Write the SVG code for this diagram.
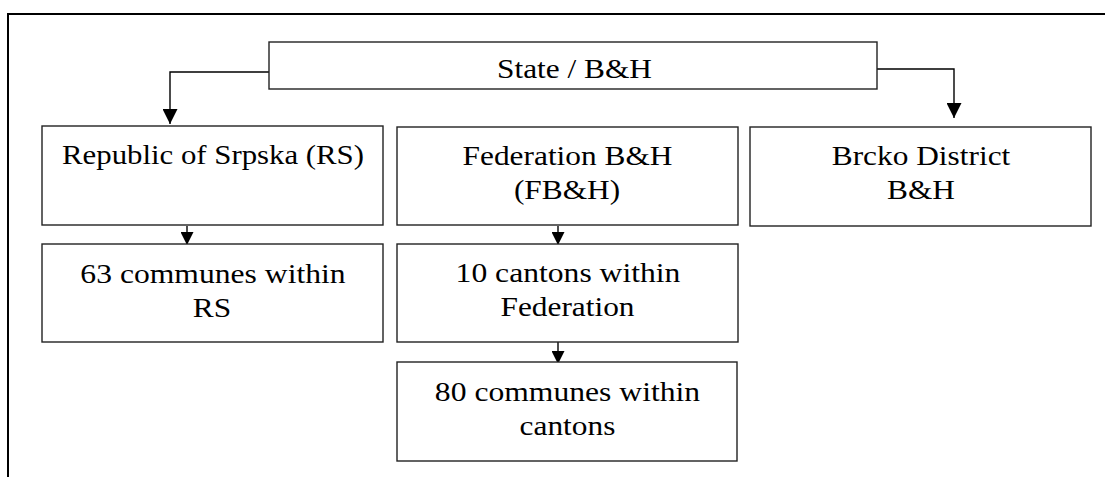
<svg xmlns="http://www.w3.org/2000/svg" width="1105" height="477" viewBox="0 0 1105 477">
<defs>
<style>
.box{fill:#fff;stroke:#222;stroke-width:1.4}
.lbl{font-family:"Liberation Serif","Times New Roman",serif;font-size:28px;fill:#000;text-anchor:middle}
.con{fill:none;stroke:#000;stroke-width:1.4}
.frame{fill:none;stroke:#000;stroke-width:2}
</style>
<marker id="ah" viewBox="0 0 15 15" markerWidth="15" markerHeight="15" refX="15" refY="7.5" orient="auto" markerUnits="userSpaceOnUse">
<path d="M0,0 L15,7.5 L0,15 z" fill="#000"/>
</marker>
<marker id="ahs" viewBox="0 0 13 13" markerWidth="13" markerHeight="13" refX="13" refY="6.5" orient="auto" markerUnits="userSpaceOnUse">
<path d="M0,0 L13,6.5 L0,13 z" fill="#000"/>
</marker>
</defs>
<rect width="1105" height="477" fill="#fff"/>
<path class="frame" d="M8,477 L8,14 L1105,14"/>

<g id="connectors">
<path class="con" d="M269,72 L170,72 L170,124" marker-end="url(#ah)"/>
<path class="con" d="M877,69 L954,69 L954,118" marker-end="url(#ah)"/>
<path class="con" d="M187,226 L187,245" marker-end="url(#ahs)"/>
<path class="con" d="M558,226 L558,245" marker-end="url(#ahs)"/>
<path class="con" d="M558,342 L558,364" marker-end="url(#ahs)"/>
</g>

<g id="state">
<rect class="box" x="269" y="42" width="608" height="47"/>
<text class="lbl" transform="translate(574.5,78) scale(1.12,1)">State / B&amp;H</text>
</g>

<g id="rs">
<rect class="box" x="42" y="126" width="341" height="99"/>
<text class="lbl" transform="translate(213,164) scale(1.1,1)">Republic of Srpska (RS)</text>
</g>

<g id="fbh">
<rect class="box" x="397" y="127" width="341" height="98"/>
<text class="lbl" transform="translate(567.5,164.5) scale(1.12,1)">Federation B&amp;H</text>
<text class="lbl" transform="translate(567,199) scale(1.12,1)">(FB&amp;H)</text>
</g>

<g id="brcko">
<rect class="box" x="750" y="127" width="341" height="99"/>
<text class="lbl" transform="translate(921,165) scale(1.12,1)">Brcko District</text>
<text class="lbl" transform="translate(921,199) scale(1.12,1)">B&amp;H</text>
</g>

<g id="rs-communes">
<rect class="box" x="42" y="244" width="341" height="98"/>
<text class="lbl" transform="translate(213,282.5) scale(1.13,1)">63 communes within</text>
<text class="lbl" transform="translate(212,317) scale(1.12,1)">RS</text>
</g>

<g id="cantons">
<rect class="box" x="397" y="244" width="341" height="98"/>
<text class="lbl" transform="translate(568,282) scale(1.13,1)">10 cantons within</text>
<text class="lbl" transform="translate(567.5,316) scale(1.12,1)">Federation</text>
</g>

<g id="canton-communes">
<rect class="box" x="397" y="362" width="340" height="99"/>
<text class="lbl" transform="translate(567.5,401) scale(1.13,1)">80 communes within</text>
<text class="lbl" transform="translate(567.5,435) scale(1.12,1)">cantons</text>
</g>
</svg>
